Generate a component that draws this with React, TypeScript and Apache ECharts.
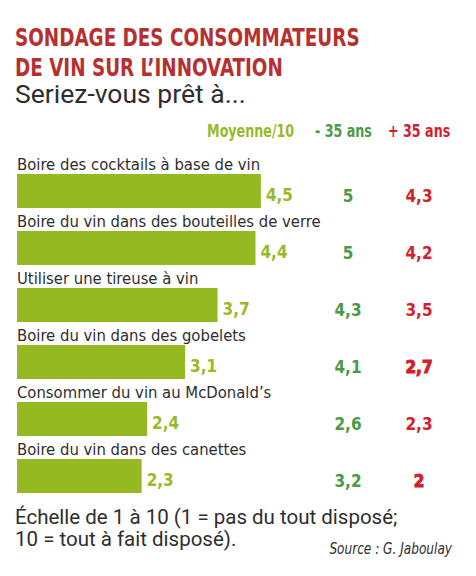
import React, { useEffect, useRef } from 'react';
import * as echarts from 'echarts';

const categories = [
  'Boire des cocktails à base de vin',
  'Boire du vin dans des bouteilles de verre',
  'Utiliser une tireuse à vin',
  'Boire du vin dans des gobelets',
  'Consommer du vin au McDonald’s',
  'Boire du vin dans des canettes',
];
const moyenne = [4.5, 4.4, 3.7, 3.1, 2.4, 2.3];
const moins35 = [5, 5, 4.3, 4.1, 2.6, 3.2];
const plus35 = [4.3, 4.2, 3.5, 2.7, 2.3, 2];
const columnHeaders = ['Moyenne/10', '- 35 ans', '+ 35 ans'];
const titleText = 'SONDAGE DES CONSOMMATEURS\nDE VIN SUR L’INNOVATION';
const subtitleText = 'Seriez-vous prêt à...';
const noteText = 'Échelle de 1 à 10 (1 = pas du tout disposé;\n10 = tout à fait disposé).';
const sourceText = 'Source : G. Jaboulay';

const W = 476;
const H = 576;
const COND = '"DejaVu Sans Condensed", "Liberation Sans Narrow", sans-serif';
const REG = 'Roboto, "Noto Sans", sans-serif';
const RED_TITLE = '#b5302f';
const BAR_GREEN = '#95b921';
const LIGHT_GREEN = '#98ba2a';
const MID_GREEN = '#4b9a47';
const RED = '#d3202d';
const DARK = '#2e2e2e';

const GRID_LEFT = 17;
const PX_PER_UNIT = 54.2;
const X_MAX = 8;
const GRID_RIGHT = W - GRID_LEFT - PX_PER_UNIT * X_MAX;
const GRID_TOP = 162.5;
const GRID_HEIGHT = 342;
const COL1_X = 348;
const COL2_X = 419;
const HEAVY_PLUS35 = [3, 5];

const fmt = (v: number) => String(v).replace('.', ',');

export default function App() {
  const ref = useRef<HTMLDivElement>(null);
  useEffect(() => {
    document.body.style.margin = '0';
    if (!ref.current) return;
    const chart = echarts.init(ref.current, null, { renderer: 'svg' });
    const rightEdge = W - GRID_RIGHT;
    const valueFont = { fontFamily: COND, fontSize: 17, fontWeight: 'bold' as const };
    const headerStyle = (text: string, fill: string) => ({
      text,
      fontFamily: COND,
      fontSize: 17,
      fontWeight: 'bold',
      fill,
      verticalAlign: 'top',
    });
    chart.setOption({
      animation: false,
      backgroundColor: '#ffffff',
      graphic: [
        {
          type: 'text',
          x: 15,
          y: 23,
          scaleX: 0.85,
          style: {
            text: titleText,
            fontFamily: COND,
            fontSize: 24,
            fontWeight: 'bold',
            lineHeight: 29.5,
            fill: RED_TITLE,
            verticalAlign: 'top',
          },
        },
        {
          type: 'text',
          x: 15,
          y: 80,
          style: {
            text: subtitleText,
            fontFamily: REG,
            fontSize: 26.5,
            fill: DARK,
            verticalAlign: 'top',
          },
        },
        { type: 'text', x: 207, y: 123, scaleX: 0.83, style: headerStyle(columnHeaders[0], LIGHT_GREEN) },
        { type: 'text', x: 315, y: 123, scaleX: 0.83, style: headerStyle(columnHeaders[1], MID_GREEN) },
        { type: 'text', x: 388, y: 123, scaleX: 0.83, style: headerStyle(columnHeaders[2], RED) },
        {
          type: 'text',
          x: 15,
          y: 506,
          style: {
            text: noteText,
            fontFamily: REG,
            fontSize: 20.5,
            lineHeight: 22,
            fill: DARK,
            verticalAlign: 'top',
          },
        },
        {
          type: 'text',
          x: 452,
          y: 541,
          scaleX: 0.9,
          style: {
            text: sourceText,
            fontFamily: COND,
            fontSize: 15,
            fontStyle: 'italic',
            fill: DARK,
            align: 'right',
            verticalAlign: 'top',
          },
        },
      ],
      grid: { left: GRID_LEFT, right: GRID_RIGHT, top: GRID_TOP, height: GRID_HEIGHT },
      xAxis: {
        type: 'value',
        min: 0,
        max: X_MAX,
        show: false,
      },
      yAxis: [
        {
          type: 'category',
          data: categories,
          inverse: true,
          show: false,
        },
        {
          type: 'category',
          data: categories,
          inverse: true,
          position: 'right',
          offset: COL1_X - rightEdge,
          axisLine: { show: false },
          axisTick: { show: false },
          axisLabel: {
            margin: 0,
            align: 'center',
            padding: [9, 0, 0, 0],
            ...valueFont,
            color: MID_GREEN,
            formatter: (_v: string, i: number) => `{n|${fmt(moins35[i])}}`,
            rich: {
              n: { ...valueFont, color: MID_GREEN },
            },
          },
        },
        {
          type: 'category',
          data: categories,
          inverse: true,
          position: 'right',
          offset: COL2_X - rightEdge,
          axisLine: { show: false },
          axisTick: { show: false },
          axisLabel: {
            margin: 0,
            align: 'center',
            padding: [9, 0, 0, 0],
            ...valueFont,
            color: RED,
            formatter: (_v: string, i: number) =>
              HEAVY_PLUS35.includes(i) ? `{h|${fmt(plus35[i])}}` : `{n|${fmt(plus35[i])}}`,
            rich: {
              n: { ...valueFont, color: RED },
              h: { ...valueFont, color: RED, textBorderColor: RED, textBorderWidth: 1 },
            },
          },
        },
      ],
      series: [
        {
          type: 'bar',
          data: moyenne,
          barWidth: 34,
          itemStyle: { color: BAR_GREEN },
          label: {
            show: true,
            position: 'right',
            distance: 5,
            offset: [0, 4],
            ...valueFont,
            color: LIGHT_GREEN,
            formatter: (p: any) => fmt(p.value),
          },
        },
        {
          type: 'bar',
          data: moyenne,
          barWidth: 34,
          barGap: '-100%',
          itemStyle: { color: 'rgba(0,0,0,0)' },
          label: {
            show: true,
            position: [0, -1],
            align: 'left',
            verticalAlign: 'bottom',
            fontFamily: COND,
            fontSize: 16.5,
            color: DARK,
            formatter: (p: any) => p.name,
          },
        },
      ],
    });
    return () => chart.dispose();
  }, []);
  return <div ref={ref} style={{ width: W, height: H }} />;
}
